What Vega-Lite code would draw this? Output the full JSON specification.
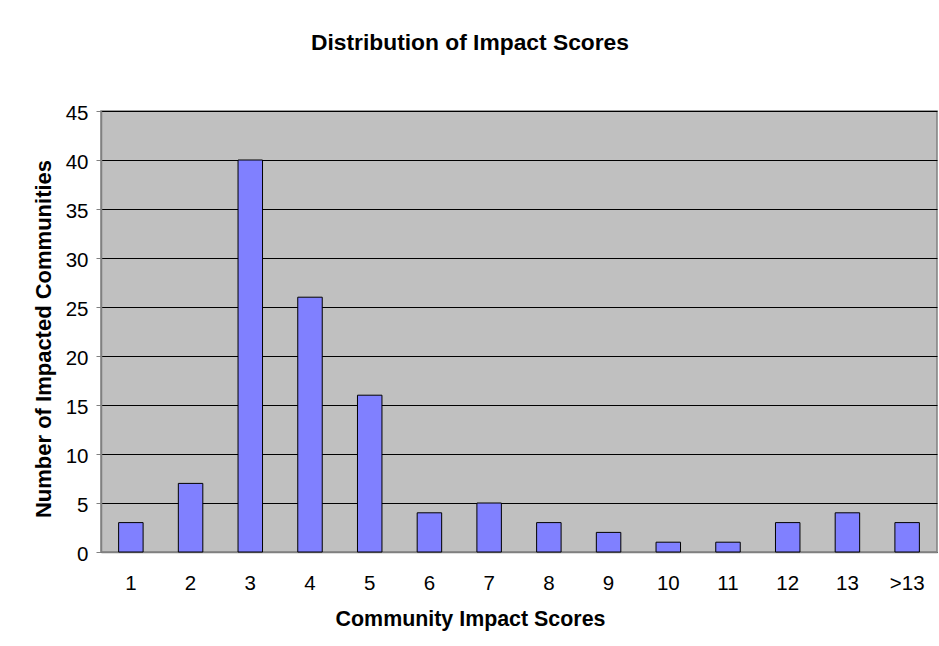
{
  "$schema": "https://vega.github.io/schema/vega-lite/v6.json",
  "autosize": "none",
  "width": 836,
  "height": 441,
  "padding": {"left": 101, "top": 111, "right": 2, "bottom": 94},
  "background": "white",
  "title": {
    "text": "Distribution of Impact Scores",
    "font": "Liberation Sans",
    "fontSize": 22.8,
    "fontWeight": "bold",
    "color": "black",
    "anchor": "middle",
    "frame": "group",
    "dx": -49,
    "offset": 30,
    "baseline": "alphabetic"
  },
  "data": {
    "values": [
      {"score": "1", "count": 3},
      {"score": "2", "count": 7},
      {"score": "3", "count": 40},
      {"score": "4", "count": 26},
      {"score": "5", "count": 16},
      {"score": "6", "count": 4},
      {"score": "7", "count": 5},
      {"score": "8", "count": 3},
      {"score": "9", "count": 2},
      {"score": "10", "count": 1},
      {"score": "11", "count": 1},
      {"score": "12", "count": 3},
      {"score": "13", "count": 4},
      {"score": ">13", "count": 3}
    ]
  },
  "mark": {"type": "bar", "fill": "#8080FF", "stroke": "black", "strokeWidth": 1},
  "encoding": {
    "x": {
      "field": "score",
      "type": "nominal",
      "sort": null,
      "scale": {"paddingInner": 0.59, "paddingOuter": 0.295},
      "axis": {
        "title": "Community Impact Scores",
        "titleFont": "Liberation Sans",
        "titleFontSize": 21.4,
        "titleFontWeight": "bold",
        "titleColor": "black",
        "titleX": 369,
        "titleY": 73,
        "titleAnchor": null,
        "titleAlign": "center",
        "titleBaseline": "alphabetic",
        "labelFont": "Liberation Sans",
        "labelFontSize": 20.5,
        "labelColor": "black",
        "labelAngle": 0,
        "labelBaseline": "alphabetic",
        "labelPadding": 37,
        "ticks": false,
        "domainColor": "#808080",
        "domainWidth": 1.5,
        "grid": false
      }
    },
    "y": {
      "field": "count",
      "type": "quantitative",
      "scale": {"domain": [0, 45], "nice": false},
      "axis": {
        "title": "Number of Impacted Communities",
        "titleFont": "Liberation Sans",
        "titleFontSize": 22,
        "titleFontWeight": "bold",
        "titleColor": "black",
        "titleAngle": -90,
        "titleX": -51,
        "titleY": 227.5,
        "titleAlign": "center",
        "titleBaseline": "alphabetic",
        "values": [0, 5, 10, 15, 20, 25, 30, 35, 40, 45],
        "labelFont": "Liberation Sans",
        "labelFontSize": 20.5,
        "labelColor": "black",
        "labelPadding": 8,
        "labelOffset": 2,
        "tickSize": 5,
        "tickColor": "#808080",
        "domainColor": "#808080",
        "domainWidth": 1.5,
        "grid": true,
        "gridColor": "black",
        "gridOpacity": 1,
        "gridWidth": 1
      }
    }
  },
  "config": {
    "view": {"fill": "#C0C0C0", "stroke": "#808080", "strokeWidth": 1.5}
  }
}
